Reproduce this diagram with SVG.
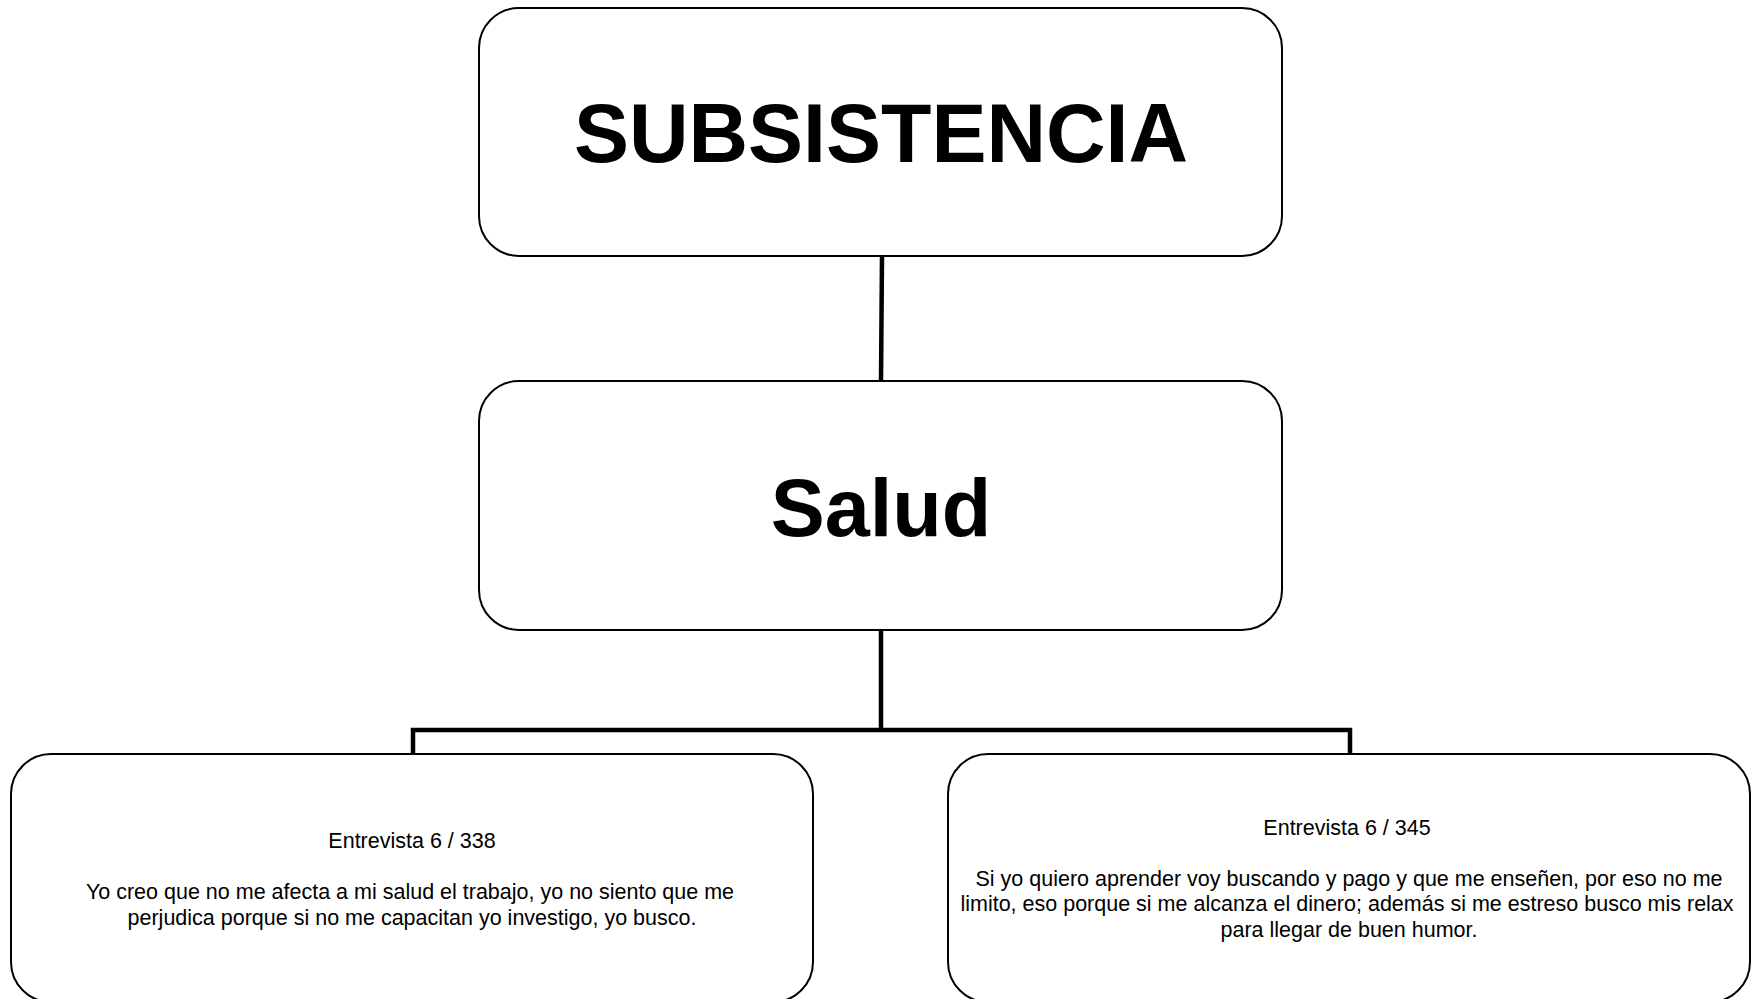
<svg xmlns="http://www.w3.org/2000/svg" width="1751" height="999" viewBox="0 0 1751 999">
<style>
.node{fill:#fff;stroke:#000;stroke-width:2}
.conn{fill:none;stroke:#000;stroke-width:4.5;stroke-linejoin:miter}
.big{font-family:"Liberation Sans",Arial,sans-serif;font-weight:bold;text-anchor:middle;fill:#000}
.small{font-family:"Liberation Sans",Arial,sans-serif;font-size:21.5px;text-anchor:middle;fill:#000}
</style>
<rect width="1751" height="999" fill="#fff"/>
<g id="connectors">
<line class="conn" x1="882" y1="256" x2="881" y2="381"/>
<polyline class="conn" points="413,755 413,730 1350,730 1350,755"/>
<line class="conn" x1="881" y1="630" x2="881" y2="730"/>
</g>
<g id="node-subsistencia">
<rect class="node" x="479" y="8" width="803" height="248" rx="40" ry="40"/>
<text class="big" x="881" y="162" font-size="82.5">SUBSISTENCIA</text>
</g>
<g id="node-salud">
<rect class="node" x="479" y="381" width="803" height="249" rx="40" ry="40"/>
<text class="big" x="881" y="536" font-size="81">Salud</text>
</g>
<g id="node-e338">
<rect class="node" x="11" y="754" width="802" height="248" rx="40" ry="40"/>
<text class="small" x="412" y="848">Entrevista 6 / 338</text>
<text class="small" x="410" y="899">Yo creo que no me afecta a mi salud el trabajo, yo no siento que me</text>
<text class="small" x="412" y="925">perjudica porque si no me capacitan yo investigo, yo busco.</text>
</g>
<g id="node-e345">
<rect class="node" x="948" y="754" width="802" height="248" rx="40" ry="40"/>
<text class="small" x="1347" y="835">Entrevista 6 / 345</text>
<text class="small" x="1349" y="886">Si yo quiero aprender voy buscando y pago y que me enseñen, por eso no me</text>
<text class="small" x="1347" y="911">limito, eso porque si me alcanza el dinero; además si me estreso busco mis relax</text>
<text class="small" x="1349" y="937">para llegar de buen humor.</text>
</g>
</svg>
